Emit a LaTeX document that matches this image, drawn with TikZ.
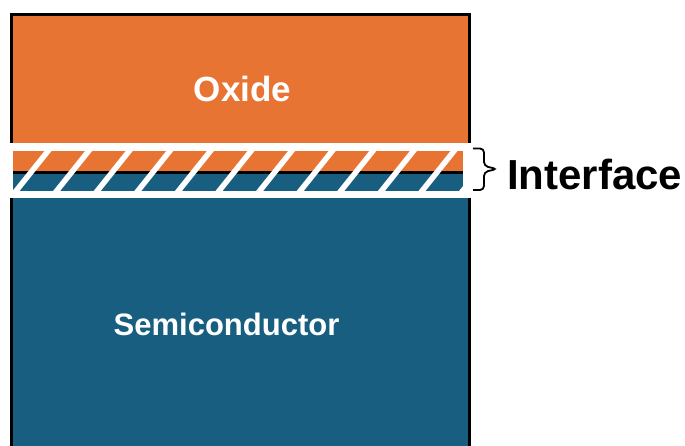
\documentclass[tikz,border=0pt]{standalone}
\usepackage{fontspec}
\setmainfont{Liberation Sans}
\definecolor{oxorange}{HTML}{E87434}
\definecolor{scblue}{HTML}{175E80}
\begin{document}
\begin{tikzpicture}[x=1pt,y=-1pt,
  labeltext/.style={font=\bfseries\fontsize{#1}{#1}\selectfont, text=white, inner sep=0pt, anchor=base},
  stripe/.style={white, line width=5.5pt},
  bracepath/.style={line width=1.8pt, rounded corners=4pt}]
\useasboundingbox (0,0) rectangle (685,446);
\fill[white] (0,0) rectangle (685,446);
\begin{scope}
  \clip (0,0) rectangle (685,446);
  \fill[oxorange] (10,13) rectangle (470.5,150);
  \fill[scblue] (10,150) rectangle (470.5,470);
  \draw[line width=3pt] (11.5,14.5) rectangle (469,480);
\end{scope}
% interface band
\fill[white] (8,143) rectangle (472,198);
\begin{scope}
  \clip (13,151) rectangle (463,191);
  \fill[oxorange] (13,151) rectangle (463,171.5);
  \fill[black] (13,171.5) rectangle (463,174.5);
  \fill[scblue] (13,174.5) rectangle (463,191);
  \foreach \k in {-1,...,11}
    \draw[stripe] ({16+40.6*\k-1.6},193) -- ({16+40.6*\k+33.6},149);
\end{scope}
% brace
\coordinate (bt) at (473,148.5);
\coordinate (bb) at (473,190);
\draw[bracepath] (bt) -- (484,148.5) -- (484,166) -- (497,169) -- (484,172) -- (484,190) -- (bb);
% labels
\node[labeltext=35] (oxide) at (242.5,102) {Oxide};
\node[labeltext=31] (semi) at (226.5,335) {Semiconductor};
\node[font=\bfseries\fontsize{42}{42}\selectfont, inner sep=0pt, anchor=base west] (iface) at (507,190) {Interface};
\end{tikzpicture}
\end{document}
